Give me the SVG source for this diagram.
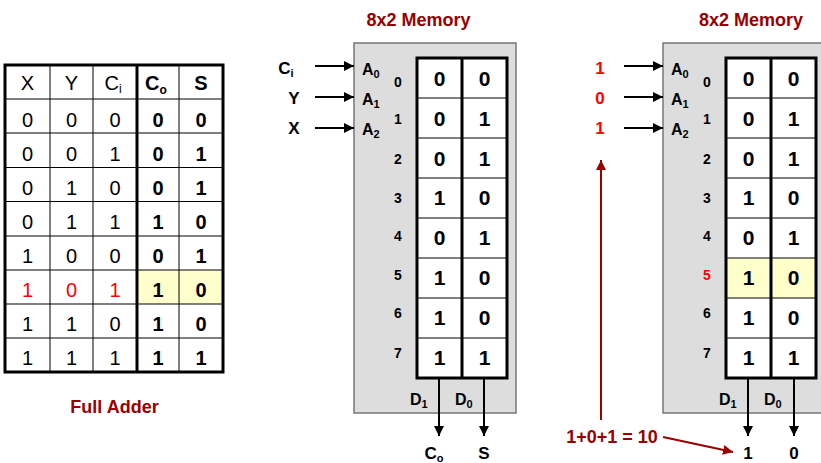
<svg xmlns="http://www.w3.org/2000/svg" width="821" height="463" viewBox="0 0 821 463">
  <style>
    text { font-family: "Liberation Sans", Arial, sans-serif; }
    .title { font-size: 18px; font-weight: bold; fill: #990000; text-anchor: middle; }
    .tt { font-size: 20px; text-anchor: middle; fill: #000; }
    .ttb { font-size: 20px; font-weight: bold; text-anchor: middle; fill: #000; }
    .cell { font-size: 21px; font-weight: bold; text-anchor: middle; fill: #000; }
    .addr { font-size: 14px; font-weight: bold; text-anchor: middle; fill: #000; }
    .pin { font-size: 16px; font-weight: bold; fill: #000; }
    .io { font-size: 17px; font-weight: bold; text-anchor: middle; fill: #000; }
    .red { fill: #ff0000; }
    .box { fill: #dddddd; stroke: #777777; stroke-width: 1.5; }
    .thin { stroke: #000; stroke-width: 1; }
    .thick { stroke: #000; stroke-width: 3; fill: none; }
    .hl { fill: #ffffcc; }
    .wire { stroke: #000; stroke-width: 2; fill: none; marker-end: url(#ah); }
    .wire-r { stroke: #990000; stroke-width: 2; fill: none; marker-end: url(#ahr); }
  </style>
  <defs>
    <marker id="ah" viewBox="0 0 10 10" refX="10" refY="5" markerWidth="5" markerHeight="5" orient="auto" markerUnits="strokeWidth">
      <path d="M0,0 L10,5 L0,10 z" fill="#000"/>
    </marker>
    <marker id="ahr" viewBox="0 0 10 10" refX="10" refY="5" markerWidth="5" markerHeight="5" orient="auto" markerUnits="strokeWidth">
      <path d="M0,0 L10,5 L0,10 z" fill="#990000"/>
    </marker>
  </defs>

  <!-- Truth table of the full adder -->
  <g id="truth-table">
    <rect x="5" y="65" width="218" height="307" fill="#fff"/>
    <rect class="hl" x="137" y="270" width="86" height="34"/>
    <g class="thin">
      <line x1="50" y1="65" x2="50" y2="372"/>
      <line x1="93" y1="65" x2="93" y2="372"/>
      <line x1="179" y1="65" x2="179" y2="372"/>
      <line x1="5" y1="99" x2="223" y2="99"/>
      <line x1="5" y1="133" x2="223" y2="133"/>
      <line x1="5" y1="167.5" x2="223" y2="167.5"/>
      <line x1="5" y1="201.5" x2="223" y2="201.5"/>
      <line x1="5" y1="236" x2="223" y2="236"/>
      <line x1="5" y1="270" x2="223" y2="270"/>
      <line x1="5" y1="304" x2="223" y2="304"/>
      <line x1="5" y1="338" x2="223" y2="338"/>
    </g>
    <line x1="137" y1="65" x2="137" y2="372" stroke="#000" stroke-width="3"/>
    <rect class="thick" x="5" y="65" width="218" height="307" stroke-width="2.5"/>
    <!-- header -->
    <text class="tt" x="27.5" y="90">X</text>
    <text class="tt" x="71.5" y="90">Y</text>
    <text class="tt" x="113" y="90">C<tspan font-size="12" dy="3">i</tspan></text>
    <text class="ttb" x="156" y="90">C<tspan font-size="12" dy="4">o</tspan></text>
    <text class="ttb" x="201" y="90">S</text>
    <!-- rows -->
    <g>
      <text class="tt" x="27.5" y="127">0</text><text class="tt" x="71.5" y="127">0</text><text class="tt" x="115" y="127">0</text><text class="ttb" x="158" y="127">0</text><text class="ttb" x="201" y="127">0</text>
      <text class="tt" x="27.5" y="161">0</text><text class="tt" x="71.5" y="161">0</text><text class="tt" x="115" y="161">1</text><text class="ttb" x="158" y="161">0</text><text class="ttb" x="201" y="161">1</text>
      <text class="tt" x="27.5" y="195">0</text><text class="tt" x="71.5" y="195">1</text><text class="tt" x="115" y="195">0</text><text class="ttb" x="158" y="195">0</text><text class="ttb" x="201" y="195">1</text>
      <text class="tt" x="27.5" y="229">0</text><text class="tt" x="71.5" y="229">1</text><text class="tt" x="115" y="229">1</text><text class="ttb" x="158" y="229">1</text><text class="ttb" x="201" y="229">0</text>
      <text class="tt" x="27.5" y="263">1</text><text class="tt" x="71.5" y="263">0</text><text class="tt" x="115" y="263">0</text><text class="ttb" x="158" y="263">0</text><text class="ttb" x="201" y="263">1</text>
      <text class="tt red" x="27.5" y="297">1</text><text class="tt red" x="71.5" y="297">0</text><text class="tt red" x="115" y="297">1</text><text class="ttb" x="158" y="297">1</text><text class="ttb" x="201" y="297">0</text>
      <text class="tt" x="27.5" y="331">1</text><text class="tt" x="71.5" y="331">1</text><text class="tt" x="115" y="331">0</text><text class="ttb" x="158" y="331">1</text><text class="ttb" x="201" y="331">0</text>
      <text class="tt" x="27.5" y="365">1</text><text class="tt" x="71.5" y="365">1</text><text class="tt" x="115" y="365">1</text><text class="ttb" x="158" y="365">1</text><text class="ttb" x="201" y="365">1</text>
    </g>
    <text class="title" x="114.5" y="413">Full Adder</text>
  </g>

  <!-- Memory block with symbolic inputs -->
  <g id="memory-1">
    <text class="title" x="418.5" y="26">8x2 Memory</text>
    <rect class="box" x="354" y="43" width="162" height="370"/>
    <rect x="417" y="58" width="90" height="320" fill="#fff"/>
    <g class="thin">
      <line x1="417" y1="98" x2="507" y2="98"/>
      <line x1="417" y1="138" x2="507" y2="138"/>
      <line x1="417" y1="178" x2="507" y2="178"/>
      <line x1="417" y1="218" x2="507" y2="218"/>
      <line x1="417" y1="258" x2="507" y2="258"/>
      <line x1="417" y1="298" x2="507" y2="298"/>
      <line x1="417" y1="338" x2="507" y2="338"/>
    </g>
    <line x1="462" y1="58" x2="462" y2="378" stroke="#000" stroke-width="3"/>
    <rect class="thick" x="417" y="58" width="90" height="320"/>
    <text class="pin" x="362" y="75">A<tspan font-size="11" dy="3">0</tspan></text>
    <text class="pin" x="362" y="105">A<tspan font-size="11" dy="3">1</tspan></text>
    <text class="pin" x="362" y="135">A<tspan font-size="11" dy="3">2</tspan></text>
    <text class="addr" x="398" y="87">0</text>
    <text class="addr" x="398" y="124">1</text>
    <text class="addr" x="398" y="164">2</text>
    <text class="addr" x="398" y="203">3</text>
    <text class="addr" x="398" y="241">4</text>
    <text class="addr" x="398" y="280">5</text>
    <text class="addr" x="398" y="318">6</text>
    <text class="addr" x="398" y="358">7</text>
    <text class="cell" x="439.5" y="86">0</text><text class="cell" x="484.5" y="86">0</text>
    <text class="cell" x="439.5" y="126">0</text><text class="cell" x="484.5" y="126">1</text>
    <text class="cell" x="439.5" y="166">0</text><text class="cell" x="484.5" y="166">1</text>
    <text class="cell" x="439.5" y="205">1</text><text class="cell" x="484.5" y="205">0</text>
    <text class="cell" x="439.5" y="245">0</text><text class="cell" x="484.5" y="245">1</text>
    <text class="cell" x="439.5" y="285">1</text><text class="cell" x="484.5" y="285">0</text>
    <text class="cell" x="439.5" y="325">1</text><text class="cell" x="484.5" y="325">0</text>
    <text class="cell" x="439.5" y="365">1</text><text class="cell" x="484.5" y="365">1</text>
    <text class="pin" x="410" y="405">D<tspan font-size="11" dy="3">1</tspan></text>
    <text class="pin" x="455" y="405">D<tspan font-size="11" dy="3">0</tspan></text>
    <text class="io" x="286" y="74" text-anchor="start">C<tspan font-size="11" dy="3">i</tspan></text>
    <text class="io" x="294" y="104">Y</text>
    <text class="io" x="294" y="134">X</text>
    <text class="io" x="434" y="459">C<tspan font-size="11" dy="3">o</tspan></text>
    <text class="io" x="484" y="459">S</text>
  </g>

  <!-- Memory block evaluated for inputs 1,0,1 -->
  <g id="memory-2">
    <text class="title" x="751" y="26">8x2 Memory</text>
    <rect class="box" x="663" y="43" width="170" height="370"/>
    <rect x="726" y="58" width="90" height="320" fill="#fff"/>
    <rect class="hl" x="726" y="258" width="90" height="40"/>
    <g class="thin">
      <line x1="726" y1="98" x2="816" y2="98"/>
      <line x1="726" y1="138" x2="816" y2="138"/>
      <line x1="726" y1="178" x2="816" y2="178"/>
      <line x1="726" y1="218" x2="816" y2="218"/>
      <line x1="726" y1="258" x2="816" y2="258"/>
      <line x1="726" y1="298" x2="816" y2="298"/>
      <line x1="726" y1="338" x2="816" y2="338"/>
    </g>
    <line x1="771" y1="58" x2="771" y2="378" stroke="#000" stroke-width="3"/>
    <rect class="thick" x="726" y="58" width="90" height="320"/>
    <text class="pin" x="671" y="75">A<tspan font-size="11" dy="3">0</tspan></text>
    <text class="pin" x="671" y="105">A<tspan font-size="11" dy="3">1</tspan></text>
    <text class="pin" x="671" y="135">A<tspan font-size="11" dy="3">2</tspan></text>
    <text class="addr" x="707" y="87">0</text>
    <text class="addr" x="707" y="124">1</text>
    <text class="addr" x="707" y="164">2</text>
    <text class="addr" x="707" y="203">3</text>
    <text class="addr" x="707" y="241">4</text>
    <text class="addr red" x="707" y="280">5</text>
    <text class="addr" x="707" y="318">6</text>
    <text class="addr" x="707" y="358">7</text>
    <text class="cell" x="748.5" y="86">0</text><text class="cell" x="793.5" y="86">0</text>
    <text class="cell" x="748.5" y="126">0</text><text class="cell" x="793.5" y="126">1</text>
    <text class="cell" x="748.5" y="166">0</text><text class="cell" x="793.5" y="166">1</text>
    <text class="cell" x="748.5" y="205">1</text><text class="cell" x="793.5" y="205">0</text>
    <text class="cell" x="748.5" y="245">0</text><text class="cell" x="793.5" y="245">1</text>
    <text class="cell" x="748.5" y="285">1</text><text class="cell" x="793.5" y="285">0</text>
    <text class="cell" x="748.5" y="325">1</text><text class="cell" x="793.5" y="325">0</text>
    <text class="cell" x="748.5" y="365">1</text><text class="cell" x="793.5" y="365">1</text>
    <text class="pin" x="719" y="405">D<tspan font-size="11" dy="3">1</tspan></text>
    <text class="pin" x="764" y="405">D<tspan font-size="11" dy="3">0</tspan></text>
    <text class="io red" x="600" y="74">1</text>
    <text class="io red" x="600" y="104">0</text>
    <text class="io red" x="600" y="134">1</text>
    <text class="io" x="748" y="459">1</text>
    <text class="io" x="794" y="459">0</text>
    <text class="title" x="612" y="443">1+0+1 = 10</text>
  </g>

  <!-- Connectors -->
  <g id="connectors">
    <line class="wire" x1="315" y1="66" x2="354" y2="66"/>
    <line class="wire" x1="315" y1="97" x2="354" y2="97"/>
    <line class="wire" x1="315" y1="128" x2="354" y2="128"/>
    <line class="wire" x1="439" y1="378" x2="439" y2="436"/>
    <line class="wire" x1="484" y1="378" x2="484" y2="436"/>
    <line class="wire" x1="624" y1="66" x2="663" y2="66"/>
    <line class="wire" x1="624" y1="97" x2="663" y2="97"/>
    <line class="wire" x1="624" y1="128" x2="663" y2="128"/>
    <line class="wire" x1="748" y1="378" x2="748" y2="436"/>
    <line class="wire" x1="794" y1="378" x2="794" y2="436"/>
    <line class="wire-r" x1="601" y1="420" x2="601" y2="160"/>
    <line class="wire-r" x1="663" y1="437" x2="733" y2="452"/>
  </g>
</svg>
